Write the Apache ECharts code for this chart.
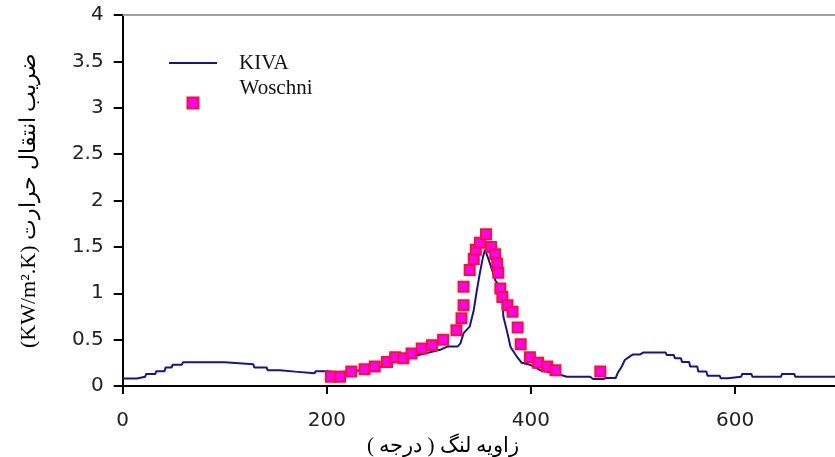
<!DOCTYPE html>
<html>
<head>
<meta charset="utf-8">
<script src="https://cdn.jsdelivr.net/npm/echarts@6/dist/echarts.min.js"></script>
<style>
  html, body { margin: 0; padding: 0; background: #fff; }
  #chart { width: 835px; height: 457px; }
</style>
</head>
<body>
<div id="chart"></div>
<script>
// KIVA curve (crank angle in degrees, heat transfer coefficient kW/m2.K)
const kivaAngle = [
  0, 14, 15, 22, 23, 32, 33, 41, 42, 48, 49, 58, 59, 100, 101, 128, 129, 141,
  142, 154, 155, 169, 170, 188, 189, 200, 210, 225, 240, 250, 259, 272, 285,
  298, 311, 318, 328, 331, 334, 340, 344, 347, 350, 353, 355, 358, 362, 365,
  370, 372, 373, 377, 380, 386, 391, 399, 409, 422, 432, 435, 458, 461, 471,
  473, 483, 484, 485, 489, 492, 497, 500, 507, 510, 532, 533, 540, 541, 547,
  548, 555, 556, 563, 564, 572, 573, 585, 586, 593, 594, 606, 607, 616, 617,
  645, 646, 658, 659, 700
]
const kivaValue = [
  0.08, 0.08, 0.1, 0.1, 0.13, 0.13, 0.16, 0.16, 0.2, 0.2, 0.23, 0.23, 0.255, 0.255, 0.235, 0.235, 0.2, 0.2,
  0.17, 0.17, 0.155, 0.155, 0.137, 0.137, 0.16, 0.16, 0.15, 0.16, 0.18, 0.2, 0.23, 0.28, 0.32,
  0.355, 0.39, 0.425, 0.425, 0.46, 0.57, 0.64, 0.82, 1.03, 1.22, 1.39, 1.47, 1.38, 1.25, 1.14,
  1.07, 0.93, 0.75, 0.57, 0.42, 0.32, 0.25, 0.23, 0.17, 0.14, 0.11, 0.1, 0.1, 0.075, 0.075,
  0.085, 0.085, 0.075, 0.14, 0.21, 0.28, 0.32, 0.34, 0.34, 0.36, 0.36, 0.335, 0.335, 0.3, 0.3,
  0.26, 0.26, 0.21, 0.21, 0.155, 0.155, 0.11, 0.11, 0.083, 0.083, 0.1, 0.1, 0.13, 0.13, 0.1,
  0.1, 0.13, 0.13, 0.1, 0.1
]

// Woschni correlation points
const woschniAngle = [
  204, 213, 224, 237, 247, 259, 267, 275, 283, 293, 303, 314, 327, 332, 334, 334,
  340, 344, 346, 350, 356, 361, 365, 367, 368, 370, 372, 377, 382, 387, 390, 399,
  407, 416, 424, 468
]
const woschniValue = [
  0.1, 0.1, 0.155, 0.18, 0.21, 0.26, 0.31, 0.3, 0.35, 0.405, 0.44, 0.5, 0.6, 0.73, 0.87, 1.07,
  1.25, 1.37, 1.47, 1.545, 1.635, 1.5, 1.42, 1.32, 1.22, 1.05, 0.96, 0.87, 0.8, 0.63, 0.45, 0.31,
  0.25, 0.21, 0.17, 0.155
]

const xTicks = { min: 0, max: 700, interval: 200 }
const yTicks = { min: 0, max: 4, interval: 0.5 }

const chart = echarts.init(document.getElementById('chart'), null, { renderer: 'canvas' })

const tickFont = { fontFamily: 'DejaVu Sans', fontSize: 20, color: '#222' }
const legendFont = { fontFamily: 'Liberation Serif', fontSize: 21, lineHeight: 24, color: '#111' }

chart.setOption({
  animation: false,
  grid: { left: 122.7, top: 15, width: 714.4, height: 371, outerBoundsMode: 'none' },
  legend: [
    {
      data: [{ name: 'KIVA', icon: 'rect' }],
      left: 169,
      top: 51,
      padding: 0,
      itemWidth: 48,
      itemHeight: 2,
      formatter: '{a|{name}}',
      textStyle: { ...legendFont, rich: { a: { ...legendFont, padding: [0, 0, 0, 17] } } }
    },
    {
      data: [{ name: 'Woschni', icon: 'rect' }],
      left: 186.5,
      top: 77.5,
      padding: 0,
      itemWidth: 11,
      itemHeight: 11,
      formatter: '{a|{name}}',
      textStyle: { ...legendFont, rich: { a: { ...legendFont, padding: [0, 0, 30, 36] } } }
    }
  ],
  xAxis: [
    {
      type: 'value',
      ...xTicks,
      name: '\u200Fزاویه لنگ ( درجه )\u200F',
      nameLocation: 'middle',
      nameGap: 35,
      nameTextStyle: { fontFamily: 'Liberation Serif', fontSize: 21, color: '#000', padding: [0, 74, 0, 0] },
      axisLine: { lineStyle: { color: '#000', width: 2 } },
      axisTick: { show: true, length: 8, lineStyle: { color: '#000', width: 2 } },
      axisLabel: { ...tickFont, margin: 25, showMaxLabel: false },
      splitLine: { show: false }
    },
    {
      type: 'value',
      ...xTicks,
      position: 'top',
      axisLine: { show: true, lineStyle: { color: '#a0a0a0', width: 2 } },
      axisTick: { show: false },
      axisLabel: { show: false },
      splitLine: { show: false }
    }
  ],
  yAxis: {
    type: 'value',
    ...yTicks,
    name: '(KW/m².K) ضریب انتقال حرارت',
    nameLocation: 'middle',
    nameGap: 82,
    nameTextStyle: { fontFamily: 'Liberation Serif', fontSize: 22, color: '#000' },
    axisLine: { show: true, lineStyle: { color: '#000', width: 2 } },
    axisTick: { show: true, length: 9, lineStyle: { color: '#000', width: 2 } },
    axisLabel: { ...tickFont, margin: 19 },
    splitLine: { show: false }
  },
  series: [
    {
      name: 'KIVA',
      type: 'line',
      xAxisIndex: 0,
      symbol: 'none',
      data: kivaAngle.map((a, i) => [a, kivaValue[i]]),
      lineStyle: { color: '#14148c', width: 2 },
      itemStyle: { color: '#14148c' },
      z: 2
    },
    {
      name: 'Woschni',
      type: 'scatter',
      xAxisIndex: 0,
      symbol: 'rect',
      symbolSize: 10,
      data: woschniAngle.map((a, i) => [a, woschniValue[i]]),
      itemStyle: { color: '#ff00ff', borderColor: '#ff1030', borderWidth: 2, opacity: 1 },
      z: 3
    }
  ]
})
</script>
</body>
</html>
